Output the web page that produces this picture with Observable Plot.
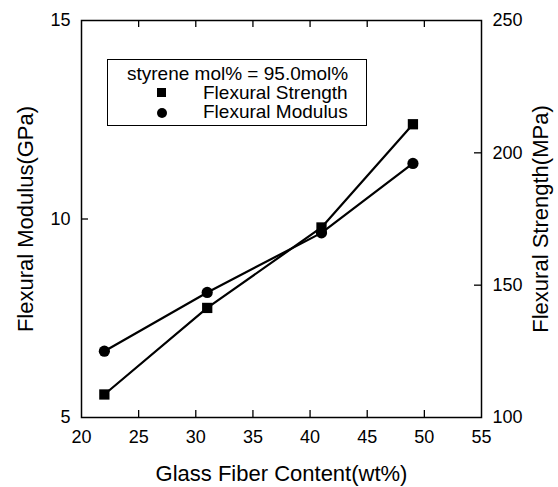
<!DOCTYPE html>
<html><head><meta charset="utf-8">
<script src="https://cdn.jsdelivr.net/npm/d3@7"></script>
<script src="https://cdn.jsdelivr.net/npm/@observablehq/plot@0.6"></script>
<style>
body{margin:0;background:#fff;}
#chart{position:relative;width:558px;height:487px;font-family:"Liberation Sans",Arial,Helvetica,sans-serif;color:#000;}
#chart svg{display:block;}
#legend{position:absolute;left:107px;top:59px;width:260px;height:67px;border:1.2px solid #000;box-sizing:border-box;background:#fff;font-size:19px;line-height:19px;}
#legend .t{position:absolute;white-space:nowrap;}
#legend .m{position:absolute;background:#000;}
</style></head>
<body><div id="chart"></div>
<script>
// ---- data ----
const glassFiber = [22, 31, 41, 49];                 // wt%
const flexStrength = [108.7, 141.4, 171.8, 210.8];   // MPa (right axis)
const flexModulus = [6.67, 8.15, 9.65, 11.40];       // GPa (left axis)
const xTicks = [20, 25, 30, 35, 40, 45, 50, 55];
const leftTicks = [5, 10, 15];
const rightTicks = [100, 150, 200, 250];
const legendTitle = "styrene mol% = 95.0mol%";
const seriesNames = ["Flexural Strength", "Flexural Modulus"];
const xTitle = "Glass Fiber Content(wt%)";
const yLeftTitle = "Flexural Modulus(GPa)";
const yRightTitle = "Flexural Strength(MPa)";

// right axis (MPa) is mapped onto the left (GPa) scale
const leftDomain = [5, 15], rightDomain = [100, 250];
const k = (leftDomain[1] - leftDomain[0]) / (rightDomain[1] - rightDomain[0]);
const toLeft = s => leftDomain[0] + (s - rightDomain[0]) * k;
const toRight = v => rightDomain[0] + (v - leftDomain[0]) / k;

const strengthData = glassFiber.map((x, i) => ({x, y: toLeft(flexStrength[i])}));
const modulusData = glassFiber.map((x, i) => ({x, y: flexModulus[i]}));

const W = 558, H = 487, mL = 81, mR = 77, mT = 20, mB = 70;
const innerW = W - mL - mR, innerH = H - mT - mB, tickLen = 7;
const font = "'Liberation Sans', Arial, Helvetica, sans-serif";

const plot = Plot.plot({
  width: W, height: H,
  marginLeft: mL, marginRight: mR, marginTop: mT, marginBottom: mB,
  style: {fontFamily: font, fontSize: "18px", color: "black", background: "white", overflow: "visible"},
  x: {domain: [20, 55]},
  y: {domain: leftDomain},
  marks: [
    Plot.axisX({ticks: xTicks, tickSize: 0, tickPadding: 13, tickFormat: d => String(d), label: null, fontSize: 18}),
    Plot.axisY({anchor: "left", ticks: leftTicks, tickSize: 0, tickPadding: 11, tickFormat: d => String(d), label: null, fontSize: 18}),
    Plot.axisY({anchor: "right", ticks: rightTicks.map(toLeft), tickSize: 0, tickPadding: 11, tickFormat: d => String(Math.round(toRight(d))), label: null, fontSize: 18}),
    Plot.tickX(xTicks.slice(1, -1), {x: d => d, insetTop: innerH - tickLen, stroke: "black", strokeWidth: 1.3}),
    Plot.tickX(xTicks.slice(1, -1), {x: d => d, insetBottom: innerH - tickLen, stroke: "black", strokeWidth: 1.3}),
    Plot.tickY(leftTicks.slice(1, -1), {y: d => d, insetRight: innerW - tickLen, stroke: "black", strokeWidth: 1.3}),
    Plot.tickY(rightTicks.slice(1, -1).map(toLeft), {y: d => d, insetLeft: innerW - tickLen, stroke: "black", strokeWidth: 1.3}),
    Plot.frame({stroke: "black", strokeWidth: 1.5}),
    Plot.line(strengthData, {x: "x", y: "y", stroke: "black", strokeWidth: 2.2}),
    Plot.line(modulusData, {x: "x", y: "y", stroke: "black", strokeWidth: 2.2}),
    Plot.dot(strengthData, {x: "x", y: "y", symbol: "square", r: 5.8, fill: "black"}),
    Plot.dot(modulusData, {x: "x", y: "y", symbol: "circle", r: 5.6, fill: "black"}),
    Plot.text([xTitle], {frameAnchor: "bottom", dy: 56, fontSize: 22, textAnchor: "middle", lineAnchor: "middle"}),
    Plot.text([yLeftTitle], {frameAnchor: "left", dx: -56, rotate: -90, fontSize: 22, textAnchor: "middle", lineAnchor: "middle"}),
    Plot.text([yRightTitle], {frameAnchor: "right", dx: 59, rotate: -90, fontSize: 22, textAnchor: "middle", lineAnchor: "middle"})
  ]
});

const chart = document.getElementById("chart");
chart.appendChild(plot);

// legend box
const legend = document.createElement("div");
legend.id = "legend";
legend.innerHTML =
  `<div class="t" style="left:19px;top:3.7px">${legendTitle}</div>` +
  `<div class="m" style="left:49px;top:28px;width:9px;height:9px"></div>` +
  `<div class="t" style="left:95px;top:22.7px">${seriesNames[0]}</div>` +
  `<div class="m" style="left:48.5px;top:48px;width:10px;height:10px;border-radius:50%"></div>` +
  `<div class="t" style="left:95px;top:41.7px">${seriesNames[1]}</div>`;
chart.appendChild(legend);
</script>
</body></html>
